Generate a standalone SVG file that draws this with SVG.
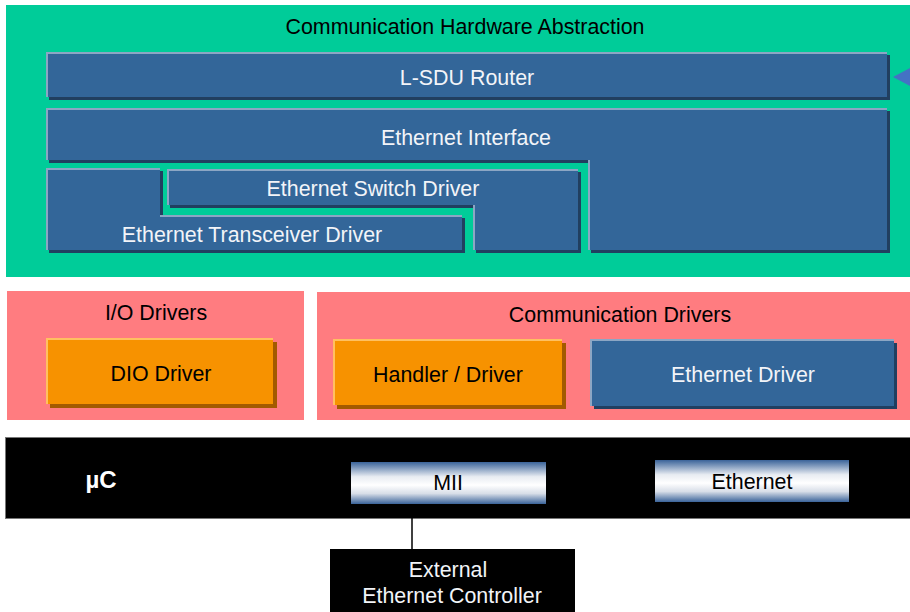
<svg xmlns="http://www.w3.org/2000/svg" width="910" height="612" viewBox="0 0 910 612">
<defs>
<style>
text{font-family:"Liberation Sans",Arial,sans-serif;font-size:21.4px;text-anchor:middle}
.w{fill:#F2F4F8}
.k{fill:#000}
.blue{fill:#336699}
.bsh{fill:#213F60}
.bhi{fill:#8CA6C4}
.or{fill:#F79200}
.osh{fill:#A35A00}
.ohi{fill:#FFC060}
.pink{fill:#FF7C80}
</style>
<linearGradient id="g" x1="0" y1="0" x2="0" y2="1">
<stop offset="0" stop-color="#3A6399"/>
<stop offset="0.35" stop-color="#E8ECF2"/>
<stop offset="0.55" stop-color="#FFFFFF"/>
<stop offset="0.75" stop-color="#D8DEE8"/>
<stop offset="1" stop-color="#3A6399"/>
</linearGradient>
</defs>

<g id="comm-hw-abstraction">
<rect x="6" y="5" width="904" height="272" fill="#00CC99"/>
<text x="465" y="34" class="k">Communication Hardware Abstraction</text>
</g>

<g id="lsdu-router">
<rect x="49" y="55" width="841" height="45" class="bsh"/>
<rect x="46" y="52" width="841" height="45" class="bhi"/>
<rect x="48" y="54" width="839" height="43" class="blue"/>
<text x="467" y="85" class="w">L-SDU Router</text>
</g>

<g id="ethernet-interface">
<polygon points="49,111 890,111 890,253 591,253 591,163 49,163" class="bsh"/>
<polygon points="46,108 887,108 887,250 588,250 588,160 46,160" class="bhi"/>
<polygon points="48,110 887,110 887,250 590,250 590,160 48,160" class="blue"/>
<text x="466" y="145" class="w">Ethernet Interface</text>
</g>

<g id="ethernet-switch-driver">
<polygon points="170,172 581,172 581,253 476,253 476,208 170,208" class="bsh"/>
<polygon points="167,169 578,169 578,250 473,250 473,205 167,205" class="bhi"/>
<polygon points="169,171 578,171 578,250 475,250 475,205 169,205" class="blue"/>
<text x="373" y="196" class="w">Ethernet Switch Driver</text>
</g>

<g id="ethernet-transceiver-driver">
<polygon points="49,171 163,171 163,218 465,218 465,253 49,253" class="bsh"/>
<polygon points="46,168 160,168 160,215 462,215 462,250 46,250" class="bhi"/>
<polygon points="48,170 160,170 160,217 462,217 462,250 48,250" class="blue"/>
<text x="252" y="242" class="w">Ethernet Transceiver Driver</text>
</g>

<g id="io-drivers">
<rect x="7" y="291" width="297" height="129" class="pink"/>
<text x="156" y="320" class="k">I/O Drivers</text>
</g>

<g id="dio-driver">
<rect x="50" y="342" width="227" height="66" class="osh"/>
<rect x="46" y="338" width="227" height="66" class="ohi"/>
<rect x="48" y="340" width="225" height="64" class="or"/>
<text x="161" y="381" class="k">DIO Driver</text>
</g>

<g id="communication-drivers">
<rect x="317" y="292" width="593" height="128" class="pink"/>
<text x="620" y="322" class="k">Communication Drivers</text>
</g>

<g id="handler-driver">
<rect x="337" y="343" width="229" height="66" class="osh"/>
<rect x="333" y="339" width="229" height="66" class="ohi"/>
<rect x="335" y="341" width="227" height="64" class="or"/>
<text x="448" y="382" class="k">Handler / Driver</text>
</g>

<g id="ethernet-driver">
<rect x="594" y="343" width="303" height="66" class="bsh"/>
<rect x="590" y="339" width="304" height="67" class="bhi"/>
<rect x="592" y="341" width="302" height="65" class="blue"/>
<text x="743" y="382" class="w">Ethernet Driver</text>
</g>

<g id="uc">
<rect x="5.5" y="437.5" width="905" height="81" fill="#000" stroke="#777" stroke-width="1"/>
<text x="101" y="488" style="fill:#fff;font-weight:bold;font-size:24px">µC</text>
</g>

<g id="mii">
<rect x="351" y="462" width="195" height="42" fill="url(#g)"/>
<text x="448" y="490" class="k">MII</text>
</g>

<g id="ethernet">
<rect x="655" y="460" width="194" height="42" fill="url(#g)"/>
<text x="752" y="489" class="k">Ethernet</text>
</g>

<g id="external-ethernet-controller">
<rect x="330" y="549" width="245" height="63" fill="#000"/>
<text x="448" y="577" class="w">External</text>
<text x="452" y="603" class="w">Ethernet Controller</text>
</g>

<g id="connectors">
<line x1="412" y1="504" x2="412" y2="549" stroke="#000" stroke-width="1.5"/>
<polygon points="893,77 910,68 910,86" fill="#4472C4"/>
</g>
</svg>
